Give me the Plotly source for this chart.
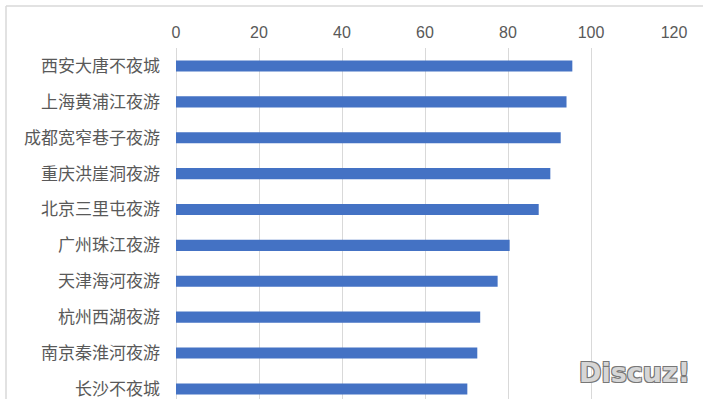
import plotly.graph_objects as go

categories = ["西安大唐不夜城", "上海黄浦江夜游", "成都宽窄巷子夜游", "重庆洪崖洞夜游",
              "北京三里屯夜游", "广州珠江夜游", "天津海河夜游", "杭州西湖夜游",
              "南京秦淮河夜游", "长沙不夜城"]
values = [95.5, 94.1, 92.7, 90.2, 87.4, 80.4, 77.5, 73.3, 72.6, 70.2]
x_ticks = [0, 20, 40, 60, 80, 100, 120]

W, H = 703, 399
ML, MR, MT, MB = 176, 29, 48, 0
pw = W - ML - MR
ph = H - MT - MB

def px_x(p):
    return (p - ML) / pw

def px_y(p):
    return (H - MB - p) / ph

fig = go.Figure(go.Bar(
    y=categories, x=values, orientation="h",
    marker=dict(color="#4472C4", line=dict(width=0)),
    hoverinfo="skip",
))

fig.update_layout(
    width=W, height=H,
    margin=dict(l=ML, r=MR, t=MT, b=MB, pad=0),
    paper_bgcolor="white", plot_bgcolor="white",
    bargap=0.69, showlegend=False,
    font=dict(family="Liberation Sans, Noto Sans CJK SC, sans-serif", size=16, color="#595959"),
    xaxis=dict(side="top", range=[0, 120], tickvals=x_ticks, ticks="",
               showgrid=True, gridcolor="#d9d9d9", gridwidth=1, zeroline=True,
               zerolinecolor="#d9d9d9", zerolinewidth=1, showline=False,
               tickfont=dict(size=16, color="#595959"), ticklabelstandoff=6),
    yaxis=dict(categoryorder="array", categoryarray=categories,
               range=[len(categories) - 0.72, -0.5], ticks="", showgrid=False,
               showline=False, zeroline=False,
               tickfont=dict(family="Noto Sans CJK SC, sans-serif", size=17, color="#595959"),
               ticklabelstandoff=15),
    shapes=[
        dict(type="line", xref="paper", yref="paper", x0=px_x(6), x1=px_x(720),
             y0=px_y(6), y1=px_y(6), line=dict(color="#d9d9d9", width=1.5)),
        dict(type="line", xref="paper", yref="paper", x0=px_x(6), x1=px_x(6),
             y0=px_y(6), y1=px_y(420), line=dict(color="#d9d9d9", width=1.5)),
    ],
    annotations=[
        dict(text="<b>Discuz!</b>", xref="paper", yref="paper", x=px_x(634), y=px_y(372),
             xanchor="center", yanchor="middle", showarrow=False,
             font=dict(family="DejaVu Sans", size=27, color="#d6d6d6",
                       shadow="1px 1px 0 #777, -1px -1px 0 #777, 1px -1px 0 #777, -1px 1px 0 #777")),
    ],
)

fig.write_html("out.html", config={"displayModeBar": False},
               post_script="document.body.style.margin='0';document.body.style.overflow='hidden';")
